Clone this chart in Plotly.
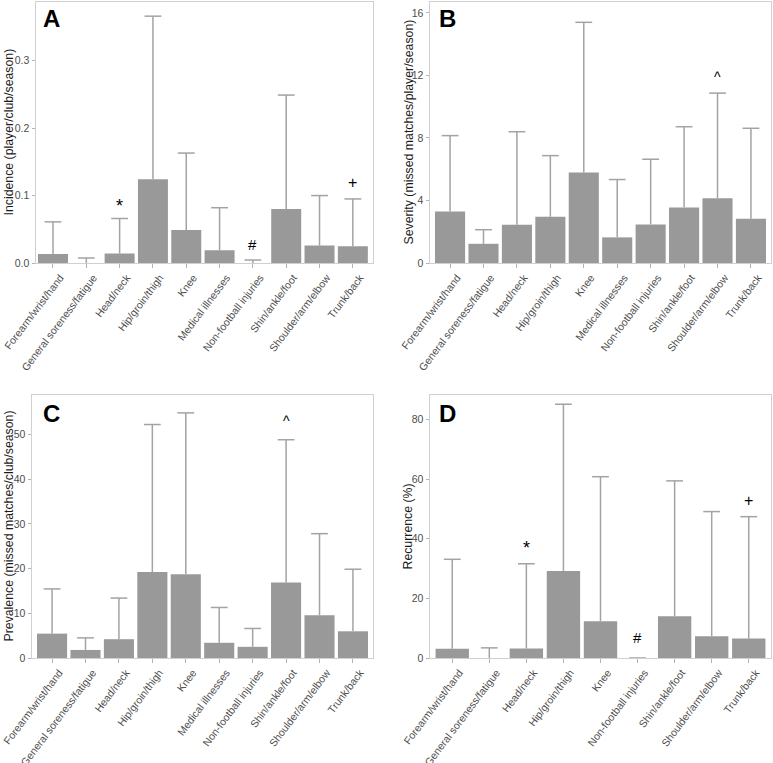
import plotly.graph_objects as go

# categories (panel D has no "Medical illnesses")
categories = ['Forearm/wrist/hand', 'General soreness/fatigue', 'Head/neck',
              'Hip/groin/thigh', 'Knee', 'Medical illnesses', 'Non-football injuries',
              'Shin/ankle/foot', 'Shoulder/arm/elbow', 'Trunk/back']
categories_d = ['Forearm/wrist/hand', 'General soreness/fatigue', 'Head/neck',
                'Hip/groin/thigh', 'Knee', 'Non-football injuries',
                'Shin/ankle/foot', 'Shoulder/arm/elbow', 'Trunk/back']

# bar values and top of error bar
incidence = [0.0133, 0.0, 0.014, 0.124, 0.049, 0.019, 0.0, 0.080, 0.026, 0.025]
incidence_upper = [0.061, 0.0074, 0.066, 0.366, 0.163, 0.082, 0.0044, 0.249, 0.100, 0.095]

severity = [3.30, 1.23, 2.45, 2.96, 5.79, 1.64, 2.47, 3.55, 4.15, 2.83]
severity_upper = [8.15, 2.13, 8.40, 6.87, 15.4, 5.34, 6.64, 8.72, 10.87, 8.62]

prevalence = [5.45, 1.8, 4.2, 19.2, 18.7, 3.4, 2.5, 16.9, 9.55, 5.97]
prevalence_upper = [15.45, 4.5, 13.4, 52.2, 54.8, 11.3, 6.6, 48.8, 27.8, 19.85]

recurrence = [3.1, 0.0, 3.2, 29.2, 12.3, 0.0, 14.0, 7.3, 6.5]
recurrence_upper = [33.1, 3.4, 31.6, 85.1, 60.8, 0.0, 59.4, 49.1, 47.4]

# significance marks: (category, y, symbol)
marks_a = [('Head/neck', 0.090, '*'), ('Non-football injuries', 0.028, '#'), ('Trunk/back', 0.119, '+')]
marks_b = [('Shoulder/arm/elbow', 12.1, '^')]
marks_c = [('Shin/ankle/foot', 53.6, '^')]
marks_d = [('Head/neck', 38.2, '*'), ('Non-football injuries', 7.0, '#'), ('Trunk/back', 52.8, '+')]

W, H = 773, 763
FONT = 'Liberation Sans, Arial, sans-serif'
BAR = '#999999'
ERR = '#A3A3A3'
# '*' and '^' glyphs sit high in the line box
MARK_SHIFT = {'*': -4, '^': -3, '#': 0, '+': 0}
MARK_SIZE = {'*': 18, '^': 14, '#': 15, '+': 16}


def px_x(a, b):
    return [a / W, b / W]


def px_y(top, bottom):
    return [1 - bottom / H, 1 - top / H]


panels = [
    # letter, cats, values, upper, marks, title, yrange, tickvals, fmt,
    # xdom, ydom, xrange, title_x, letter_xy
    ('A', categories, incidence, incidence_upper, marks_a,
     'Incidence (player/club/season)', [0, 0.387], [0, 0.1, 0.2, 0.3], '.1f',
     px_x(36, 372.5), px_y(2, 263), [-0.51, 9.59], 8, (41, 18.5)),
    ('B', categories, severity, severity_upper, marks_b,
     'Severity (missed matches/player/season)', [0, 16.7], [0, 4, 8, 12, 16], 'd',
     px_x(430, 771), px_y(2, 263), [-0.6, 9.6], 408, (437, 18.5)),
    ('C', categories, prevalence, prevalence_upper, marks_c,
     'Prevalence (missed matches/club/season)', [0, 58.8], [0, 10, 20, 30, 40, 50], 'd',
     px_x(32, 373), px_y(395, 658), [-0.6, 9.6], 8, (41, 413.5)),
    ('D', categories_d, recurrence, recurrence_upper, marks_d,
     'Recurrence (%)', [0, 88.2], [0, 20, 40, 60, 80], 'd',
     px_x(430, 771), px_y(395, 658), [-0.6, 8.6], 407, (437, 413.5)),
]

fig = go.Figure()
annotations = []
layout = {}

for i, (letter, cats, vals, upper, marks, title, yrange, tickvals, fmt,
        xdom, ydom, xrange, title_x, letter_xy) in enumerate(panels, start=1):
    xa = 'x' if i == 1 else f'x{i}'
    ya = 'y' if i == 1 else f'y{i}'
    # bars with the vertical part of the error bar (upper side only)
    fig.add_trace(go.Bar(
        x=cats, y=vals, xaxis=xa, yaxis=ya,
        marker=dict(color=BAR, line=dict(width=0)),
        width=0.9,
        error_y=dict(type='data', symmetric=False,
                     array=[u - v for u, v in zip(upper, vals)],
                     arrayminus=[0] * len(vals),
                     color=ERR, thickness=1.5, width=0),
        showlegend=False, hoverinfo='x+y'))
    # caps at the top of the error bars
    fig.add_trace(go.Scatter(
        x=cats, y=upper, xaxis=xa, yaxis=ya, mode='markers',
        marker=dict(symbol='line-ew', size=12, color=ERR,
                    line=dict(color=ERR, width=1.5)),
        showlegend=False, hoverinfo='skip', cliponaxis=False))

    layout['xaxis' if i == 1 else f'xaxis{i}'] = dict(
        domain=xdom, anchor=ya, type='category', range=xrange,
        tickangle=-53, ticks='outside', ticklen=3.5, tickcolor='#B3B3B3',
        ticklabelshift=7,
        tickfont=dict(family=FONT, size=10.5, color='#4D4D4D'),
        showgrid=False, zeroline=False, showline=True, mirror=True,
        linecolor='#D0D0D0', linewidth=1, automargin=False)
    layout['yaxis' if i == 1 else f'yaxis{i}'] = dict(
        domain=ydom, anchor=xa, range=yrange, tickvals=tickvals,
        tickformat=fmt, ticks='outside', ticklen=3.5, tickcolor='#B3B3B3',
        tickfont=dict(family=FONT, size=10.5, color='#4D4D4D'),
        showgrid=False, zeroline=False, showline=True, mirror=True,
        linecolor='#D0D0D0', linewidth=1, automargin=False)

    # panel letter
    annotations.append(dict(
        text=f'<b>{letter}</b>', xref='paper', yref='paper',
        x=letter_xy[0] / W, y=1 - letter_xy[1] / H,
        xanchor='left', yanchor='middle', showarrow=False,
        font=dict(family=FONT, size=24, color='black')))
    # y-axis title
    annotations.append(dict(
        text=title, xref='paper', yref='paper', x=title_x / W,
        y=(ydom[0] + ydom[1]) / 2, xanchor='center', yanchor='middle',
        textangle=-90, showarrow=False,
        font=dict(family=FONT, size=12.3, color='#1A1A1A')))
    # significance marks
    for cat, yv, sym in marks:
        annotations.append(dict(
            text=sym, xref=xa, yref=ya, x=cat, y=yv, xanchor='center',
            yanchor='middle', showarrow=False, yshift=MARK_SHIFT[sym],
            font=dict(family=FONT, size=MARK_SIZE[sym], color='black')))

fig.update_layout(
    width=W, height=H,
    margin=dict(l=0, r=0, t=0, b=0),
    paper_bgcolor='white', plot_bgcolor='white',
    annotations=annotations,
    **layout)

# the page's default body margin would push the 773x763 figure off the window
fig.write_html("out.html",
               config={'displayModeBar': False},
               post_script="document.body.style.margin='0';"
                           "document.body.style.overflow='hidden';")
